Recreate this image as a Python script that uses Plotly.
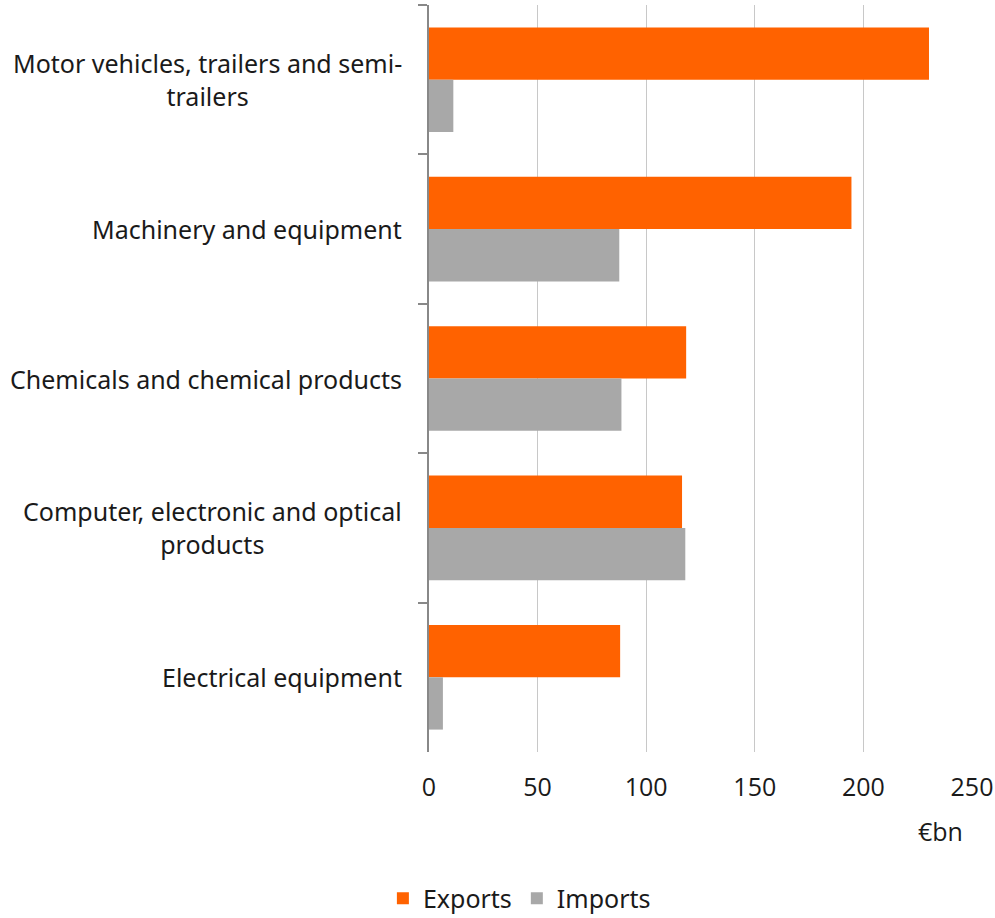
import plotly.graph_objects as go

categories = [
    "Motor vehicles, trailers and semi-<br>trailers",
    "Machinery and equipment",
    "Chemicals and chemical products",
    "Computer, electronic and optical<br>products",
    "Electrical equipment",
]
exports = [230.2, 194.5, 118.4, 116.5, 88.0]
imports = [11.2, 87.6, 88.6, 118.0, 6.4]
x_ticks = [0, 50, 100, 150, 200, 250]

ORANGE = "#FF6200"
GREY = "#A8A8A8"
LABEL_FONT = "Noto Sans"
NUM_FONT = "Open Sans"
TEXT = "#1a1a1a"

fig = go.Figure()
fig.add_trace(go.Bar(y=categories, x=exports, name="Exports", orientation="h",
                     marker=dict(color=ORANGE, line=dict(width=0))))
fig.add_trace(go.Bar(y=categories, x=imports, name="Imports", orientation="h",
                     marker=dict(color=GREY, line=dict(width=0))))

# category labels, centred multi-line text to the left of the axis
for cat in categories:
    fig.add_annotation(x=0, xref="paper", y=cat, yref="y", text=cat,
                       showarrow=False, xanchor="right", yanchor="middle",
                       align="center", xshift=-25,
                       font=dict(family=LABEL_FONT, size=25, color=TEXT))

fig.add_annotation(x=1, xref="paper", y=-0.106, yref="paper", text="€bn",
                   showarrow=False, xanchor="right", yanchor="middle", xshift=-7,
                   font=dict(family=NUM_FONT, size=25, color=TEXT))

fig.update_layout(
    width=995, height=918,
    margin=dict(l=429, r=23, t=5, b=166, autoexpand=False),
    plot_bgcolor="white", paper_bgcolor="white",
    barmode="group", bargap=0.3, bargroupgap=0,
    showlegend=True,
    legend=dict(orientation="h", xref="container", x=0.522, xanchor="center",
                yref="paper", y=-0.196, yanchor="middle",
                font=dict(family=LABEL_FONT, size=25, color=TEXT),
                itemwidth=30, traceorder="normal"),
    xaxis=dict(range=[0, 250], tickvals=x_ticks, showgrid=True,
               gridcolor="#C8C8C8", gridwidth=1, zeroline=False,
               showline=False, ticks="", ticklabelstandoff=18,
               tickfont=dict(family=NUM_FONT, size=25, color=TEXT)),
    yaxis=dict(autorange="reversed", showticklabels=False, showgrid=False,
               showline=True, linecolor="#888888", linewidth=1.5,
               ticks="outside", tickson="boundaries", ticklen=9,
               tickcolor="#888888", tickwidth=1.5, zeroline=False),
)

fig.write_html("out.html")
